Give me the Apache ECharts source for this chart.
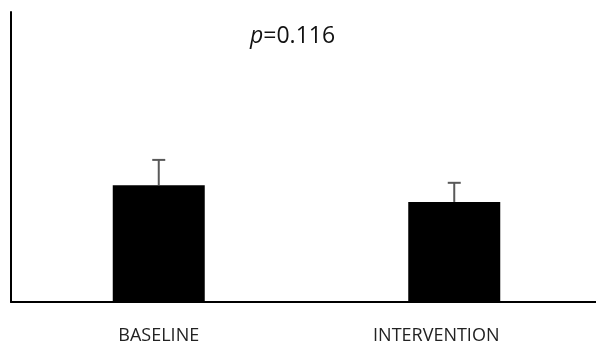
<!DOCTYPE html>
<html><head><meta charset="utf-8">
<script src="https://cdn.jsdelivr.net/npm/echarts@6/dist/echarts.min.js"></script>
<style>html,body{margin:0;padding:0;background:#fff}#c{width:596px;height:347px}</style>
</head><body><div id="c"></div>
<script>
const categories = ['BASELINE', 'INTERVENTION'];
const means = [4.03, 3.45];
const errors = [0.87, 0.66];
const pText = '0.116';

const chart = echarts.init(document.getElementById('c'));
chart.setOption({
  animation: false,
  grid: {left: 11, right: -6, top: 12, bottom: 45, outerBoundsMode: 'none', containLabel: false},
  xAxis: {
    type: 'category',
    data: categories.map((c, i) => i === 1 ? {value: c, textStyle: {padding: [0, 36, 0, 0]}} : c),
    axisLine: {lineStyle: {color: '#000', width: 2}},
    axisTick: {show: false},
    axisLabel: {color: '#222', fontFamily: 'Open Sans', fontSize: 18, margin: 25}
  },
  yAxis: {
    type: 'value', min: 0, max: 10,
    axisLine: {show: true, lineStyle: {color: '#000', width: 2}},
    axisTick: {show: false},
    axisLabel: {show: false},
    splitLine: {show: false}
  },
  graphic: [{
    type: 'text', left: 250, top: 25,
    style: {
      rich: {i: {fontStyle: 'italic', fontFamily: 'Open Sans', fontSize: 23, fill: '#111'},
             n: {fontFamily: 'Open Sans', fontSize: 23, fill: '#111'}},
      text: '{i|p}{n|=' + pText + '}'
    }
  }],
  series: [{
    type: 'bar', data: means, barWidth: 92,
    itemStyle: {color: '#000'}
  }, {
    type: 'custom',
    data: means.map((m, i) => [i, m, errors[i]]),
    renderItem: function (params, api) {
      const top = api.coord([api.value(0), api.value(1) + api.value(2)]);
      const base = api.coord([api.value(0), api.value(1)]);
      const half = 6.5;
      return {type: 'group', children: [
        {type: 'line', shape: {x1: top[0], y1: top[1], x2: base[0], y2: base[1]}, style: {stroke: '#595959', lineWidth: 2}},
        {type: 'line', shape: {x1: top[0] - half, y1: top[1], x2: top[0] + half, y2: top[1]}, style: {stroke: '#595959', lineWidth: 2}}
      ]};
    },
    z: 5
  }]
});
</script></body></html>
